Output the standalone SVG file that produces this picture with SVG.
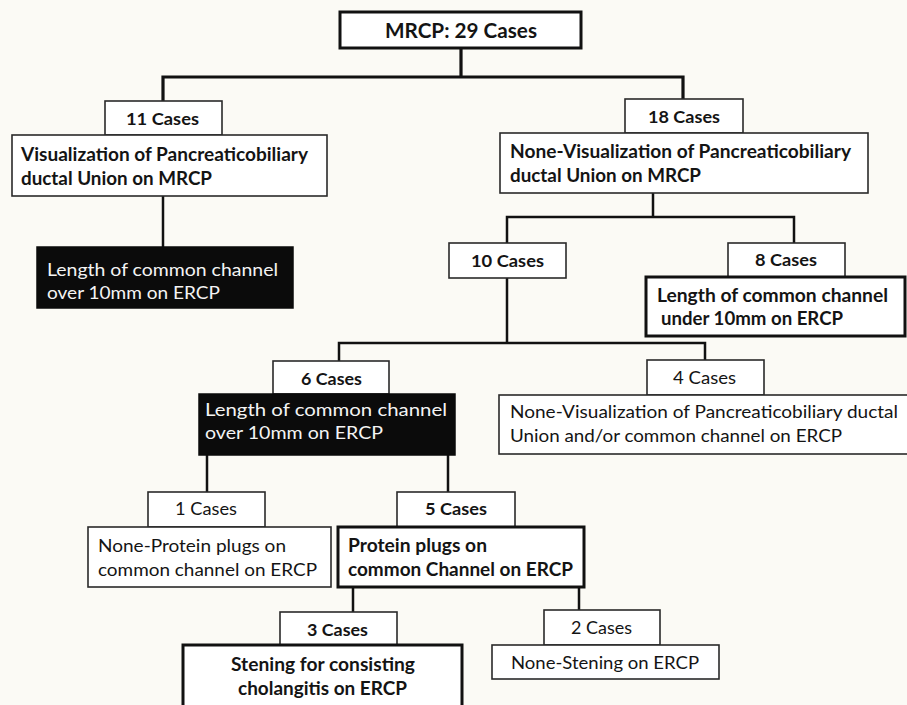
<svg xmlns="http://www.w3.org/2000/svg" width="907" height="705" viewBox="0 0 907 705">
  <style>
    .box { fill: #ffffff; stroke: #2a2a2a; stroke-width: 1.6; }
    .thick { fill: #ffffff; stroke: #111111; stroke-width: 3; }
    .dark { fill: #0b0b0b; stroke: #0b0b0b; stroke-width: 1.5; }
    .t { font-family: Lato, "Liberation Sans", Arial, sans-serif; font-size: 18px; fill: #141414; }
    .c { font-size: 17.5px; }
    .b { font-weight: bold; }
    .w { fill: #f4f4f4; }
    .big { font-size: 20px; }
    .conn { fill: none; stroke: #111111; stroke-width: 2.5; stroke-linecap: square; }
    .conn-top { fill: none; stroke: #111111; stroke-width: 3.2; stroke-linecap: square; }
  </style>
  <rect x="0" y="0" width="907" height="705" fill="#fbfaf5"/>

  <g id="connectors">
    <path class="conn-top" d="M461,49 V77 M163,77 H683 M163,77 V101 M683,77 V99"/>
    <path class="conn" d="M163,196 V247"/>
    <path class="conn" d="M653,193 V217 M507,217 H794 M507,217 V243 M794,217 V243"/>
    <path class="conn" d="M507,278 V343 M339,343 H705 M339,343 V361 M705,343 V360"/>
    <path class="conn" d="M207,455 V492 M448,455 V492"/>
    <path class="conn" d="M353,587 V612 M579,587 V610"/>
  </g>

  <g id="n_mrcp">
    <rect class="thick" x="340" y="12" width="241" height="36"/>
    <text class="t b big" x="385" y="38" textLength="152" lengthAdjust="spacingAndGlyphs">MRCP: 29 Cases</text>
  </g>

  <g id="n_11">
    <rect class="box" x="105" y="101" width="117" height="34"/>
    <text class="t c b" x="126" y="125" textLength="73" lengthAdjust="spacingAndGlyphs">11 Cases</text>
  </g>
  <g id="n_vis">
    <rect class="box" x="12" y="135" width="315" height="61"/>
    <text class="t b" x="21" y="161" textLength="287" lengthAdjust="spacingAndGlyphs">Visualization of Pancreaticobiliary</text>
    <text class="t b" x="21" y="185" textLength="191" lengthAdjust="spacingAndGlyphs">ductal Union on MRCP</text>
  </g>

  <g id="n_18">
    <rect class="box" x="625" y="99" width="118" height="34"/>
    <text class="t c b" x="648" y="123" textLength="72" lengthAdjust="spacingAndGlyphs">18 Cases</text>
  </g>
  <g id="n_nonvis">
    <rect class="box" x="500" y="133" width="368" height="60"/>
    <text class="t b" x="510" y="158" textLength="341" lengthAdjust="spacingAndGlyphs">None-Visualization of Pancreaticobiliary</text>
    <text class="t b" x="510" y="182" textLength="191" lengthAdjust="spacingAndGlyphs">ductal Union on MRCP</text>
  </g>

  <g id="n_over1">
    <rect class="dark" x="37" y="247" width="256" height="61"/>
    <text class="t w" x="47" y="276" textLength="231" lengthAdjust="spacingAndGlyphs">Length of common channel</text>
    <text class="t w" x="47" y="299" textLength="173" lengthAdjust="spacingAndGlyphs">over 10mm on ERCP</text>
  </g>

  <g id="n_10">
    <rect class="box" x="449" y="243" width="117" height="35"/>
    <text class="t c b" x="471" y="267" textLength="73" lengthAdjust="spacingAndGlyphs">10 Cases</text>
  </g>

  <g id="n_8">
    <rect class="box" x="728" y="243" width="117" height="34"/>
    <text class="t c b" x="755" y="266" textLength="62" lengthAdjust="spacingAndGlyphs">8 Cases</text>
  </g>
  <g id="n_under">
    <rect class="thick" x="646" y="277" width="259" height="59"/>
    <text class="t b" x="657" y="302" textLength="231" lengthAdjust="spacingAndGlyphs">Length of common channel</text>
    <text class="t b" x="661" y="325" textLength="182" lengthAdjust="spacingAndGlyphs">under 10mm on ERCP</text>
  </g>

  <g id="n_6">
    <rect class="box" x="273" y="361" width="116" height="33"/>
    <text class="t c b" x="301" y="385" textLength="61" lengthAdjust="spacingAndGlyphs">6 Cases</text>
  </g>
  <g id="n_over2">
    <rect class="dark" x="199" y="394" width="256" height="61"/>
    <text class="t w" x="205" y="416" textLength="242" lengthAdjust="spacingAndGlyphs">Length of common channel</text>
    <text class="t w" x="205" y="439" textLength="178" lengthAdjust="spacingAndGlyphs">over 10mm on ERCP</text>
  </g>

  <g id="n_4">
    <rect class="box" x="647" y="360" width="117" height="35"/>
    <text class="t c" x="673" y="384" textLength="63" lengthAdjust="spacingAndGlyphs">4 Cases</text>
  </g>
  <g id="n_nonvis2">
    <rect class="box" x="499" y="395" width="412" height="59"/>
    <text class="t" x="510" y="418" textLength="388" lengthAdjust="spacingAndGlyphs">None-Visualization of Pancreaticobiliary ductal</text>
    <text class="t" x="510" y="442" textLength="332" lengthAdjust="spacingAndGlyphs">Union and/or common channel on ERCP</text>
  </g>

  <g id="n_1">
    <rect class="box" x="148" y="492" width="117" height="35"/>
    <text class="t c" x="175" y="515" textLength="62" lengthAdjust="spacingAndGlyphs">1 Cases</text>
  </g>
  <g id="n_nonprot">
    <rect class="box" x="88" y="527" width="243" height="60"/>
    <text class="t" x="98" y="552" textLength="188" lengthAdjust="spacingAndGlyphs">None-Protein plugs on</text>
    <text class="t" x="98" y="576" textLength="219" lengthAdjust="spacingAndGlyphs">common channel on ERCP</text>
  </g>

  <g id="n_5">
    <rect class="box" x="397" y="492" width="118" height="35"/>
    <text class="t c b" x="425" y="515" textLength="62" lengthAdjust="spacingAndGlyphs">5 Cases</text>
  </g>
  <g id="n_prot">
    <rect class="thick" x="338" y="527" width="246" height="60"/>
    <text class="t b" x="348" y="552" textLength="139" lengthAdjust="spacingAndGlyphs">Protein plugs on</text>
    <text class="t b" x="348" y="576" textLength="225" lengthAdjust="spacingAndGlyphs">common Channel on ERCP</text>
  </g>

  <g id="n_3">
    <rect class="box" x="280" y="612" width="117" height="33"/>
    <text class="t c b" x="307" y="636" textLength="61" lengthAdjust="spacingAndGlyphs">3 Cases</text>
  </g>
  <g id="n_sten">
    <rect class="thick" x="183" y="645" width="279" height="66"/>
    <text class="t b" x="231" y="671" textLength="184" lengthAdjust="spacingAndGlyphs">Stening for consisting</text>
    <text class="t b" x="238" y="695" textLength="169" lengthAdjust="spacingAndGlyphs">cholangitis on ERCP</text>
  </g>

  <g id="n_2">
    <rect class="box" x="544" y="610" width="116" height="35"/>
    <text class="t c" x="571" y="634" textLength="61" lengthAdjust="spacingAndGlyphs">2 Cases</text>
  </g>
  <g id="n_nonsten">
    <rect class="box" x="492" y="645" width="227" height="34"/>
    <text class="t" x="511" y="669" textLength="188" lengthAdjust="spacingAndGlyphs">None-Stening on ERCP</text>
  </g>
</svg>
